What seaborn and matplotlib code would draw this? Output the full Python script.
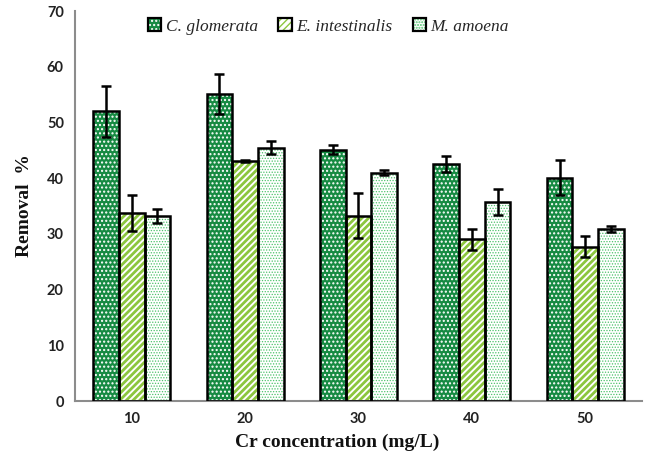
import numpy as np
import pandas as pd
import matplotlib
matplotlib.use("Agg")
import matplotlib.pyplot as plt
import seaborn as sns
from matplotlib.patches import Patch
from matplotlib.legend_handler import HandlerTuple

# Data
concentrations = ["10", "20", "30", "40", "50"]
species = ["C. glomerata", "E. intestinalis", "M. amoena"]
glomerata_mean = [52.0, 55.1, 45.1, 42.6, 40.1]
glomerata_err = [4.6, 3.6, 0.8, 1.4, 3.2]
intestinalis_mean = [33.7, 43.1, 33.3, 29.0, 27.7]
intestinalis_err = [3.2, 0.2, 4.1, 1.8, 1.9]
amoena_mean = [33.2, 45.5, 41.0, 35.7, 30.9]
amoena_err = [1.3, 1.2, 0.5, 2.3, 0.5]

means = [glomerata_mean, intestinalis_mean, amoena_mean]
errs = [glomerata_err, intestinalis_err, amoena_err]

df = pd.DataFrame({
    "conc": np.repeat([concentrations], 3, axis=0).ravel(),
    "species": np.repeat(species, len(concentrations)),
    "removal": np.concatenate(means),
    "err": np.concatenate(errs),
})

# Fill styles per species: (face colour, hatch colour, hatch, hatch linewidth)
styles = {
    "C. glomerata": ("#168a42", "#ffffff", "....", 1.0),
    "E. intestinalis": ("#ffffff", "#8cc63f", "/////", 2.0),
    "M. amoena": ("#ffffff", "#4cc36a", "......", 0.6),
}

sns.set_theme(style="white")
fig = plt.figure(figsize=(6.48, 4.62), dpi=100)
ax = fig.add_axes([0.1157, 0.132, 0.8750, 0.844])

sns.barplot(data=df, x="conc", y="removal", hue="species", order=concentrations,
            hue_order=species, errorbar=None, width=0.68, ax=ax, legend=False,
            saturation=1)


def style_fill(p, sp):
    face, hcol, hatch, hlw = styles[sp]
    p.set_facecolor(face)
    p.set_edgecolor(hcol)
    p.set_hatch(hatch)
    p.set_linewidth(0)
    if hasattr(p, "set_hatch_linewidth"):
        p.set_hatch_linewidth(hlw)


# Patterned fills with black outlines and error bars
n = len(concentrations)
for i, sp in enumerate(species):
    bars = ax.patches[i * n:(i + 1) * n]
    for j, b in enumerate(bars):
        style_fill(b, sp)
        x0, w, h = b.get_x(), b.get_width(), b.get_height()
        ax.add_patch(plt.Rectangle((x0, 0), w, h, facecolor="none",
                                   edgecolor="black", linewidth=1.8, zorder=3))
        ax.errorbar(x0 + w / 2, h, yerr=errs[i][j], fmt="none", ecolor="black",
                    elinewidth=1.8, capsize=3.5, capthick=1.8, zorder=4)

ax.set_ylim(0, 70)
ax.set_xlim(-0.5, n - 0.5)
ax.set_yticks(range(0, 71, 10))
ax.tick_params(axis="both", length=0, pad=8)
for lab in ax.get_xticklabels() + ax.get_yticklabels():
    lab.set_fontfamily("Lato")
    lab.set_fontweight("bold")
    lab.set_fontsize(10.5)
    lab.set_color("#222222")

ax.set_xlabel("Cr concentration (mg/L)", family="Liberation Serif", weight="bold",
              fontsize=14, color="#111111", labelpad=9)
ax.xaxis.set_label_coords(0.462, -0.085)
ax.set_ylabel("Removal  %", family="Liberation Serif", weight="bold",
              fontsize=14, color="#111111", labelpad=10)

for side in ["top", "right"]:
    ax.spines[side].set_visible(False)
for side in ["left", "bottom"]:
    ax.spines[side].set_color("#8c8c8c")
    ax.spines[side].set_linewidth(1.5)

handles = []
for sp in species:
    fill = Patch(label=sp)
    style_fill(fill, sp)
    outline = Patch(facecolor="none", edgecolor="black", linewidth=1.6)
    handles.append((fill, outline))
leg = ax.legend(handles=handles, labels=species, loc="upper center",
                bbox_to_anchor=(0.447, 1.022),
                handler_map={tuple: HandlerTuple(ndivide=1, pad=0)},
                ncol=3, frameon=False, handlelength=0.75, handleheight=0.75,
                handletextpad=0.25, columnspacing=1.2,
                prop={"family": "Liberation Serif", "style": "italic", "size": 12.5})

fig.savefig("out.png", dpi=100)
